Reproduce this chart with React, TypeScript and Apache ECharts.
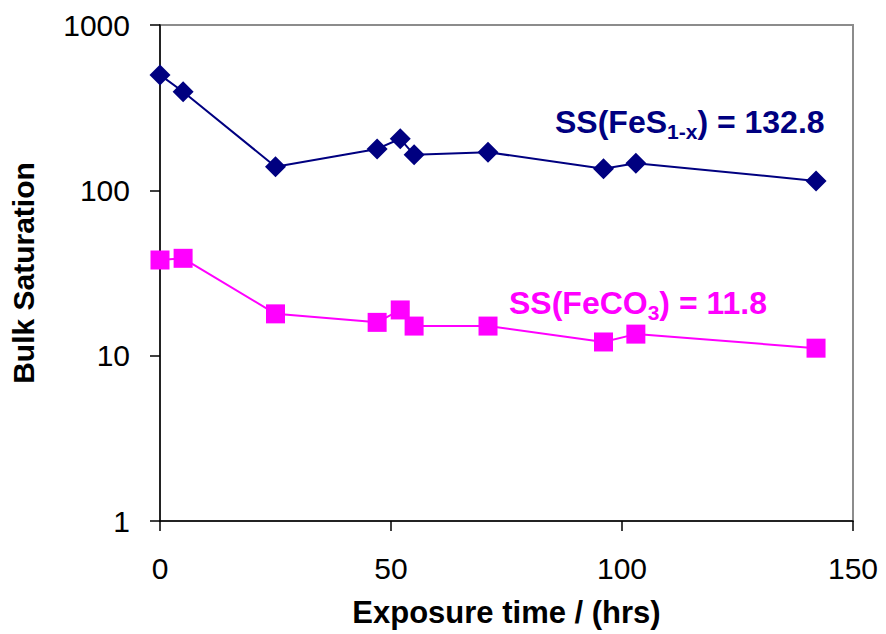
import React, { useEffect, useRef } from "react";
import * as echarts from "echarts";

const timeHrs = [0, 5, 25, 47, 52, 55, 71, 96, 103, 142];
const ssFeS = [499, 395, 139, 178, 205, 164, 170, 135, 146, 114];
const ssFeCO3 = [37.9, 38.8, 17.9, 15.9, 18.9, 15.1, 15.1, 12.1, 13.5, 11.1];
const xTicks = [0, 50, 100, 150];
const yTicks = [1, 10, 100, 1000];

const FONT = "'Liberation Sans', Arial, sans-serif";
const NAVY = "#000080";
const MAGENTA = "#FF00FF";

export default function App() {
  const ref = useRef<HTMLDivElement>(null);
  useEffect(() => {
    if (!ref.current) return;
    const chart = echarts.init(ref.current, null, { renderer: "svg" });
    const pair = (ys: number[]) => timeHrs.map((t, i) => [t, ys[i]]);
    chart.setOption({
      animation: false,
      backgroundColor: "#ffffff",
      textStyle: { fontFamily: FONT },
      grid: {
        left: 160,
        right: 33,
        top: 25,
        bottom: 113,
        show: true,
        borderColor: "#8c8c8c",
        borderWidth: 2,
      },
      xAxis: {
        type: "value",
        min: xTicks[0],
        max: xTicks[xTicks.length - 1],
        interval: 50,
        name: "Exposure time / (hrs)",
        nameLocation: "middle",
        nameGap: 76,
        nameTextStyle: { fontSize: 31, fontWeight: "bold", color: "#000", fontFamily: FONT },
        axisLine: { show: true, onZero: false, lineStyle: { color: "#000", width: 1.5 } },
        axisTick: { show: true, inside: false, length: 10, lineStyle: { color: "#000", width: 1.5 } },
        axisLabel: { fontSize: 30, color: "#000", margin: 32, fontFamily: FONT, formatter: (v: number) => String(v) },
        splitLine: { show: false },
      },
      yAxis: {
        type: "log",
        logBase: 10,
        min: yTicks[0],
        max: yTicks[yTicks.length - 1],
        name: "Bulk Saturation",
        nameLocation: "middle",
        nameGap: 122,
        nameTextStyle: { fontSize: 30, fontWeight: "bold", color: "#000", fontFamily: FONT },
        axisLine: { show: true, onZero: false, lineStyle: { color: "#000", width: 1.5 } },
        axisTick: { show: true, inside: false, length: 10, lineStyle: { color: "#000", width: 1.5 } },
        axisLabel: { fontSize: 30, color: "#000", margin: 30, fontFamily: FONT, formatter: (v: number) => String(Math.round(v)) },
        splitLine: { show: false },
      },
      series: [
        {
          name: "SS(FeS1-x)",
          type: "line",
          data: pair(ssFeS),
          symbol: "diamond",
          symbolSize: 21,
          itemStyle: { color: NAVY },
          lineStyle: { color: NAVY, width: 2 },
        },
        {
          name: "SS(FeCO3)",
          type: "line",
          data: pair(ssFeCO3),
          symbol: "rect",
          symbolSize: 19,
          itemStyle: { color: MAGENTA },
          lineStyle: { color: MAGENTA, width: 2 },
        },
      ],
      graphic: [
        {
          type: "text",
          left: 555,
          top: 106,
          style: {
            text: "{m|SS(FeS}{s|1-x}{m|) = 132.8}",
            rich: {
              m: { fontSize: 32, fontWeight: "bold", fill: NAVY, fontFamily: FONT, verticalAlign: "top", lineHeight: 32 },
              s: { fontSize: 21, fontWeight: "bold", fill: NAVY, fontFamily: FONT, verticalAlign: "top", lineHeight: 21, padding: [15, 0, 0, 0] },
            },
          },
        },
        {
          type: "text",
          left: 509,
          top: 287,
          style: {
            text: "{m|SS(FeCO}{s|3}{m|) = 11.8}",
            rich: {
              m: { fontSize: 32, fontWeight: "bold", fill: MAGENTA, fontFamily: FONT, verticalAlign: "top", lineHeight: 32 },
              s: { fontSize: 21, fontWeight: "bold", fill: MAGENTA, fontFamily: FONT, verticalAlign: "top", lineHeight: 21, padding: [15, 0, 0, 0] },
            },
          },
        },
      ],
    });
    return () => chart.dispose();
  }, []);
  return <div ref={ref} style={{ width: 886, height: 634, position: "absolute", left: 0, top: 0 }} />;
}
